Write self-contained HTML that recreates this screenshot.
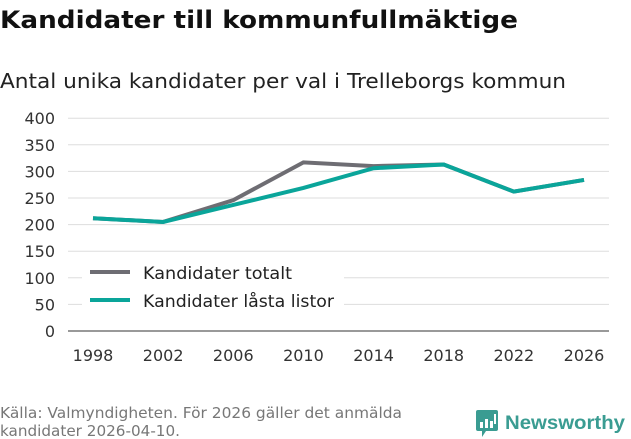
<!DOCTYPE html>
<html><head><meta charset="utf-8"><style>
body{margin:0;background:#fff;}
svg{display:block;font-family:"DejaVu Sans","Liberation Sans",sans-serif;}
</style></head><body>
<svg id="chart" width="631" height="439" viewBox="0 0 631 439">
<text x="0" y="28" font-size="24" font-weight="bold" fill="#111" textLength="518" lengthAdjust="spacingAndGlyphs">Kandidater till kommunfullmäktige</text>
<text x="0" y="88" font-size="20" fill="#222" textLength="566" lengthAdjust="spacingAndGlyphs">Antal unika kandidater per val i Trelleborgs kommun</text>
<g id="grid"></g><g id="yticks"></g><g id="xticks"></g>
<rect x="82" y="258" width="262" height="60" fill="#fff"/>
<g id="series"></g>
<g>
<line x1="90" y1="272" x2="130" y2="272" stroke="#6e6d73" stroke-width="4"/>
<text x="143" y="279" font-size="17" fill="#222" textLength="149" lengthAdjust="spacingAndGlyphs">Kandidater totalt</text>
<line x1="90" y1="300" x2="130" y2="300" stroke="#0aa59a" stroke-width="4"/>
<text x="143" y="307" font-size="17" fill="#222" textLength="191" lengthAdjust="spacingAndGlyphs">Kandidater låsta listor</text>
</g>
<text x="0" y="418" font-size="15" fill="#777" textLength="402" lengthAdjust="spacingAndGlyphs">Källa: Valmyndigheten. För 2026 gäller det anmälda</text>
<text x="0" y="436" font-size="15" fill="#777" textLength="180" lengthAdjust="spacingAndGlyphs">kandidater 2026-04-10.</text>
<g>
<rect x="476" y="410" width="22" height="21" rx="2" fill="#3a9c92"/>
<polygon points="482,431 486,431 482,437" fill="#3a9c92"/>
<rect x="480" y="422" width="3" height="6" fill="#fff"/><rect x="485" y="419" width="3" height="9" fill="#fff"/><rect x="490" y="421" width="3" height="7" fill="#fff"/><rect x="494" y="414" width="2" height="10" fill="#fff"/>
<text x="505" y="429" font-size="19" font-weight="bold" fill="#3a9c92" font-family="Liberation Sans,sans-serif" textLength="120" lengthAdjust="spacingAndGlyphs">Newsworthy</text>
</g>
</svg>
<script>
const years=[1998,2002,2006,2010,2014,2018,2022,2026];
const totalt=[212,205,246,317,310,313,262,284];
const lasta=[212,205,237,269,306,313,262,284];
const yTickVals=[0,50,100,150,200,250,300,350,400];
const NS="http://www.w3.org/2000/svg";
const x=v=>93+(v-1998)*(584-93)/28;
const y=v=>331-v*0.532;
const grid=document.getElementById('grid'),yt=document.getElementById('yticks'),xt=document.getElementById('xticks'),ser=document.getElementById('series');
yTickVals.forEach(v=>{
 const l=document.createElementNS(NS,'line');
 l.setAttribute('x1',68);l.setAttribute('x2',609);l.setAttribute('y1',y(v));l.setAttribute('y2',y(v));
 l.setAttribute('stroke',v===0?'#333':'#ddd');l.setAttribute('stroke-width',1);
 
 
 grid.appendChild(l);
 const t=document.createElementNS(NS,'text');
 t.setAttribute('x',55);t.setAttribute('y',y(v)+6);t.setAttribute('text-anchor','end');t.setAttribute('font-size','16');t.setAttribute('fill','#333');
 t.textContent=v;
 
 
 yt.appendChild(t);
});
years.forEach(yr=>{
 const t=document.createElementNS(NS,'text');
 t.setAttribute('x',x(yr));t.setAttribute('y',361);t.setAttribute('text-anchor','middle');t.setAttribute('font-size','16');t.setAttribute('fill','#333');
 t.textContent=yr;
 
 
 xt.appendChild(t);
});
[[totalt,'#6e6d73','line-totalt'],[lasta,'#0aa59a','line-lasta']].forEach(([d,c,n])=>{
 const p=document.createElementNS(NS,'polyline');
 p.setAttribute('points',d.map((v,i)=>x(years[i])+','+y(v)).join(' '));
 p.setAttribute('fill','none');p.setAttribute('stroke',c);p.setAttribute('stroke-width','4');
 
 
 ser.appendChild(p);
});
</script>
</body></html>
